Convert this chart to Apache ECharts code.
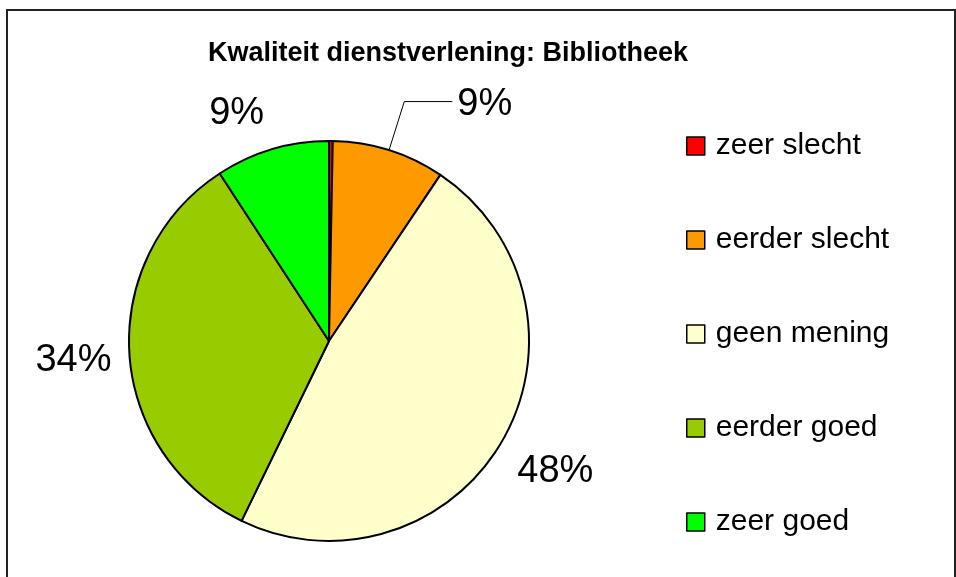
<!DOCTYPE html>
<html>
<head>
<meta charset="utf-8">
<title>Kwaliteit dienstverlening: Bibliotheek</title>
<script src="https://cdn.jsdelivr.net/npm/echarts@6/dist/echarts.min.js"></script>
<style>
	html,body{margin:0;padding:0;background:#fff;}
	#pie-chart{width:956px;height:577px;}
</style>
</head>
<body>
<div id="pie-chart"></div>
<script>
//图表数据
var chartTitle = 'Kwaliteit dienstverlening: Bibliotheek';
var categories = ['zeer slecht', 'eerder slecht', 'geen mening', 'eerder goed', 'zeer goed'];
var values = [0.3, 9.1, 47.8, 33.6, 9.2];
var colors = ['#FF0000', '#FF9900', '#FFFFCC', '#99CC00', '#00FF00'];

var fontName = 'Arial, "Liberation Sans", sans-serif';

//初始化图表
var echartInstance = initEchart();

/**
 * 百分比标签
 * @param params
 * @returns
 */
function pctLabel(params){
	return Math.round(params.percent) + '%';
}

/**
 * 饼图数据
 * @returns
 */
function buildPieData(){
	var rtn = [];
	for (var i = 0; i < categories.length; i++) {
		var item = {
			name: categories[i],
			value: values[i],
			itemStyle: {color: colors[i]},
			label: {show: false}
		};
		//"eerder slecht" 带引导线
		if (i == 1) {
			item.label = {show: true, offset: [0, 3]};
			item.labelLine = {show: true};
		}
		rtn.push(item);
	}
	return rtn;
}

/**
 * 外圈标签（透明环）
 * @returns
 */
function buildRingData(){
	var rtn = [];
	for (var i = 0; i < categories.length; i++) {
		var item = {
			name: categories[i],
			value: values[i],
			label: {show: i >= 2}
		};
		if (i == 3) {
			item.label.offset = [5, 3];
		}
		if (i == 4) {
			item.label.offset = [-18, 23];
		}
		rtn.push(item);
	}
	return rtn;
}

/**
 * 初始化echart图表
 * @returns
 */
function initEchart(){
	var rtn = {};
	rtn.pieChart = echarts.init(document.getElementById('pie-chart'));
	rtn.pieOption = {
		animation: false,
		backgroundColor: '#fff',
		textStyle: {fontFamily: fontName},
		title: {
			text: chartTitle,
			left: 208,
			top: 40,
			padding: 0,
			textStyle: {fontSize: 27, fontWeight: 'bold', color: '#000', fontFamily: fontName}
		},
		legend: {
			orient: 'vertical',
			left: 686,
			top: 131,
			padding: 0,
			itemWidth: 18,
			itemHeight: 18,
			itemGap: 64,
			icon: 'rect',
			selectedMode: false,
			data: categories,
			itemStyle: {borderColor: '#000', borderWidth: 1.5},
			textStyle: {fontSize: 30, lineHeight: 30, color: '#000', fontFamily: fontName, padding: [0, 0, 0, 6]}
		},
		graphic: [{
			type: 'rect',
			z: -1,
			shape: {x: 7, y: 10, width: 948, height: 620},
			style: {fill: 'none', stroke: '#222', lineWidth: 2}
		}],
		series: [
			{
				name: 'pie',
				type: 'pie',
				center: [329, 341],
				radius: 200,
				startAngle: 90,
				clockwise: true,
				avoidLabelOverlap: false,
				emphasis: {disabled: true},
				itemStyle: {borderColor: '#000', borderWidth: 2},
				label: {
					position: 'outside',
					formatter: pctLabel,
					fontSize: 38,
					color: '#000',
					fontFamily: fontName
				},
				labelLine: {
					length: 51,
					length2: 48,
					lineStyle: {color: '#000', width: 1}
				},
				data: buildPieData()
			},
			{
				name: 'ring',
				type: 'pie',
				center: [329, 341],
				radius: [210, 306],
				startAngle: 90,
				clockwise: true,
				silent: true,
				legendHoverLink: false,
				avoidLabelOverlap: false,
				emphasis: {disabled: true},
				itemStyle: {color: 'rgba(0,0,0,0)', borderWidth: 0},
				label: {
					position: 'inside',
					formatter: pctLabel,
					fontSize: 38,
					color: '#000',
					fontFamily: fontName
				},
				labelLine: {show: false},
				data: buildRingData()
			}
		]
	};
	rtn.pieChart.setOption(rtn.pieOption);
	return rtn;
}
</script>
</body>
</html>
